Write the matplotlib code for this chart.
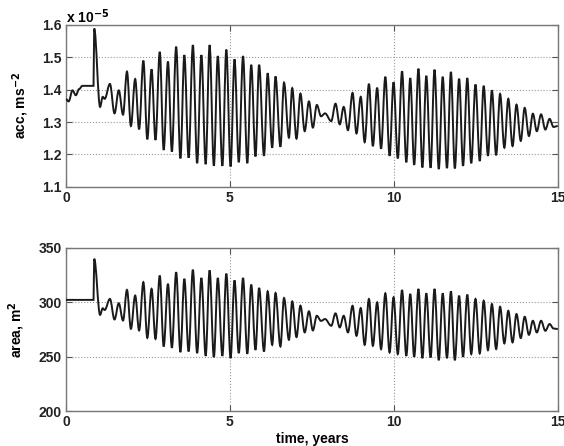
import numpy as np
import matplotlib
matplotlib.use('Agg')
import matplotlib.pyplot as plt
from matplotlib.path import Path
from matplotlib.patches import PathPatch

# acc (x 1e-5 m/s^2) - turning points
t_acc = [0.0, 0.08, 0.2, 0.3, 0.4, 0.5, 0.84, 0.86, 1.04, 1.12, 1.18, 1.34, 1.48, 1.61, 1.74,
         1.86, 1.98, 2.11, 2.23, 2.36, 2.48, 2.61, 2.73, 2.86, 2.98, 3.11, 3.23, 3.36, 3.49,
         3.61, 3.74, 3.87, 4.0, 4.13, 4.26, 4.38, 4.51, 4.63, 4.77, 4.89, 5.02, 5.14, 5.27,
         5.40, 5.53, 5.65, 5.78, 5.89, 6.04, 6.15, 6.29, 6.39, 6.54, 6.65, 6.80, 6.90, 7.03,
         7.15, 7.28, 7.41, 7.53, 7.65, 7.78, 7.9, 8.09, 8.22, 8.35, 8.47, 8.6, 8.74, 8.86,
         8.99, 9.11, 9.24, 9.36, 9.49, 9.61, 9.74, 9.87, 9.99, 10.12, 10.25, 10.38, 10.50,
         10.62, 10.75, 10.87, 10.99, 11.12, 11.24, 11.37, 11.49, 11.62, 11.74, 11.86, 11.99,
         12.11, 12.24, 12.36, 12.49, 12.62, 12.74, 12.87, 12.99, 13.12, 13.24, 13.37, 13.49,
         13.62, 13.74, 13.87, 13.99, 14.12, 14.24, 14.36, 14.49, 14.62, 14.75, 14.87, 15.0]
acc = [1.371, 1.364, 1.398, 1.383, 1.402, 1.412, 1.412, 1.589, 1.347, 1.378, 1.372, 1.418,
       1.327, 1.398, 1.323, 1.456, 1.288, 1.433, 1.278, 1.49, 1.247, 1.463, 1.245, 1.517,
       1.214, 1.487, 1.209, 1.533, 1.188, 1.507, 1.19, 1.538, 1.173, 1.507, 1.17, 1.538,
       1.165, 1.504, 1.165, 1.524, 1.163, 1.494, 1.176, 1.504, 1.173, 1.477, 1.194, 1.477,
       1.196, 1.451, 1.221, 1.441, 1.224, 1.422, 1.252, 1.405, 1.249, 1.388, 1.272, 1.364,
       1.283, 1.353, 1.318, 1.327, 1.303, 1.357, 1.293, 1.347, 1.275, 1.39, 1.265, 1.378,
       1.238, 1.418, 1.226, 1.406, 1.218, 1.44, 1.196, 1.423, 1.188, 1.457, 1.176, 1.436,
       1.168, 1.465, 1.16, 1.443, 1.159, 1.462, 1.155, 1.44, 1.158, 1.455, 1.157, 1.434,
       1.165, 1.436, 1.173, 1.416, 1.18, 1.412, 1.196, 1.398, 1.198, 1.387, 1.221, 1.372,
       1.226, 1.354, 1.242, 1.344, 1.257, 1.326, 1.272, 1.324, 1.277, 1.31, 1.285, 1.288]

# area (m^2)
t_area = [0.0] + t_acc[6:]
area = [302.3, 302.3, 340, 288.5, 294.6, 293, 303.2, 284.3, 299.2, 283.3, 311.5, 275.7,
        306.3, 274.2, 318.5, 267.4, 312.4, 266.5, 324.6, 259.5, 317, 258.3, 327.7, 254.3,
        321.6, 254.9, 330, 253.4, 322.4, 250.9, 329.4, 249.7, 322.4, 250.9, 326.4, 248.8,
        320.2, 253.4, 322.4, 252.8, 316.3, 256.4, 313.2, 254.9, 310.1, 261, 308.6, 259.5,
        304, 265.6, 300.9, 268.1, 297, 272.4, 291.8, 274.2, 287.7, 283, 284.7, 278.5, 289.9,
        277, 287.7, 272.4, 296.9, 269.3, 294.8, 261, 303.1, 260.1, 300, 257, 308.3, 254,
        304.6, 252.5, 311.3, 250.9, 307.7, 250, 312.3, 248.8, 308.3, 249.4, 312.3, 246.9,
        308.3, 248.8, 310.1, 246.9, 306.1, 250, 307.1, 252.5, 303.1, 253.1, 301.5, 256.1,
        298.5, 257.1, 296, 262.3, 292.3, 263.2, 289.3, 267.2, 286.8, 270.2, 283.1, 272.4,
        283.1, 273.9, 280.1, 276, 275.5]

x_ticks = [0, 5, 10, 15]
acc_ticks = [1.1, 1.2, 1.3, 1.4, 1.5, 1.6]
area_ticks = [200, 250, 300, 350]

plt.rcParams['font.family'] = ['Liberation Sans', 'DejaVu Sans']
plt.rcParams['font.size'] = 10
plt.rcParams['font.weight'] = 'bold'
plt.rcParams['axes.labelweight'] = 'bold'

fig = plt.figure(figsize=(5.64, 4.46), dpi=100)
ax1 = fig.add_axes([0.117, 0.581, 0.872, 0.363])
ax2 = fig.add_axes([0.117, 0.078, 0.872, 0.366])


def smooth_line(ax, t, v):
    # bezier through the turning points, flat tangent at each one
    verts = [(t[0], v[0])]
    codes = [Path.MOVETO]
    for i in range(1, len(t)):
        d = (t[i] - t[i - 1]) * 0.36
        verts += [(t[i - 1] + d, v[i - 1]), (t[i] - d, v[i]), (t[i], v[i])]
        codes += [Path.CURVE4] * 3
    ax.add_patch(PathPatch(Path(verts, codes), fill=False, edgecolor='#1a1a1a',
                           lw=1.4, zorder=3))


def style(ax, yticks):
    ax.set_xlim(0, 15)
    ax.set_ylim(yticks[0], yticks[-1])
    ax.set_xticks(x_ticks)
    ax.set_yticks(yticks)
    ax.grid(True, linestyle=':', color='#999999', linewidth=0.8)
    ax.tick_params(direction='in', top=True, right=True, length=4, color='#555555',
                   labelcolor='#222222', pad=3)
    for s in ax.spines.values():
        s.set_color('#777777')
        s.set_linewidth(1.0)


smooth_line(ax1, t_acc, acc)
style(ax1, acc_ticks)
ax1.set_yticklabels(['%.1f' % v for v in acc_ticks])
ax1.set_ylabel('acc, ms$^{-2}$', labelpad=8)
ax1.text(0.0, 1.015, r'x 10$^{-5}$', transform=ax1.transAxes, fontsize=10)

smooth_line(ax2, t_area, area)
style(ax2, area_ticks)
ax2.set_ylabel('area, m$^2$', labelpad=8)
ax2.set_xlabel('time, years', labelpad=2)

fig.savefig('out.png', dpi=100)
